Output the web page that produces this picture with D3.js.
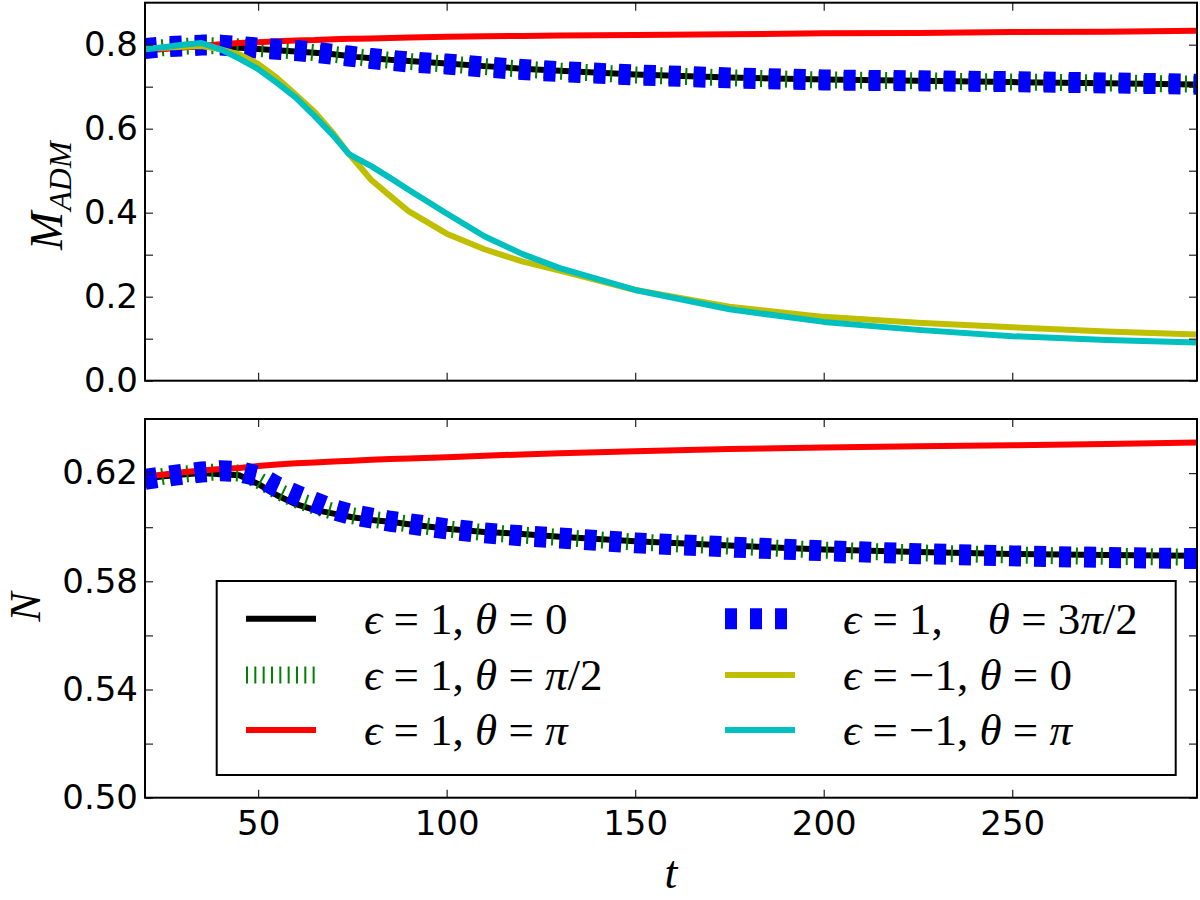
<!DOCTYPE html>
<html>
<head>
<meta charset="utf-8">
<script src="https://cdn.jsdelivr.net/npm/d3@7"></script>
<style>
body { margin: 0; background: #fff; }
</style>
</head>
<body>
<script>
const WIDTH = 1200;
const HEIGHT = 900;

// time grid, top panel (M_ADM)
var tTop = [20, 25, 30, 35, 40, 45, 50, 55, 60, 65, 70, 74, 76, 80, 85, 90, 100, 110, 120, 130, 150, 175, 200, 225, 250, 275, 299];
var massBlack  = [0.787, 0.791, 0.794, 0.796, 0.795, 0.793, 0.790, 0.787, 0.784, 0.781, 0.777, 0.773, 0.771, 0.768, 0.764, 0.761, 0.755, 0.749, 0.743, 0.738, 0.729, 0.722, 0.717, 0.714, 0.711, 0.708, 0.705];
var massGreen  = [0.789, 0.793, 0.796, 0.798, 0.797, 0.795, 0.791, 0.788, 0.785, 0.781, 0.777, 0.773, 0.771, 0.767, 0.763, 0.760, 0.754, 0.748, 0.742, 0.737, 0.728, 0.721, 0.716, 0.714, 0.711, 0.709, 0.706];
var massRed    = [0.786, 0.790, 0.794, 0.797, 0.801, 0.804, 0.806, 0.808, 0.810, 0.811, 0.813, 0.814, 0.814, 0.815, 0.816, 0.817, 0.819, 0.820, 0.821, 0.822, 0.823, 0.825, 0.827, 0.828, 0.830, 0.831, 0.833];
var massBlue   = [0.791, 0.795, 0.797, 0.799, 0.799, 0.796, 0.792, 0.789, 0.786, 0.782, 0.777, 0.773, 0.771, 0.767, 0.763, 0.759, 0.754, 0.747, 0.741, 0.736, 0.728, 0.721, 0.716, 0.714, 0.712, 0.709, 0.706];
var massYellow = [0.791, 0.793, 0.795, 0.797, 0.789, 0.777, 0.754, 0.721, 0.681, 0.640, 0.588, 0.541, 0.520, 0.478, 0.440, 0.403, 0.350, 0.313, 0.284, 0.262, 0.216, 0.176, 0.152, 0.138, 0.127, 0.117, 0.110];
var massCyan   = [0.789, 0.794, 0.800, 0.804, 0.789, 0.767, 0.742, 0.709, 0.674, 0.630, 0.583, 0.540, 0.530, 0.511, 0.483, 0.454, 0.398, 0.344, 0.302, 0.268, 0.216, 0.170, 0.140, 0.121, 0.106, 0.097, 0.091];

// time grid, bottom panel (N)
var tBottom = [20, 25, 30, 35, 40, 45, 50, 55, 60, 65, 70, 75, 80, 85, 90, 100, 110, 120, 130, 150, 175, 200, 225, 250, 275, 299];
var normBlack = [0.6180, 0.6188, 0.6195, 0.6200, 0.6196, 0.6192, 0.6160, 0.6118, 0.6085, 0.6064, 0.6050, 0.6037, 0.6027, 0.6020, 0.6011, 0.5994, 0.5982, 0.5975, 0.5965, 0.5948, 0.5932, 0.5918, 0.5908, 0.5901, 0.5897, 0.5894];
var normGreen = [0.6178, 0.6188, 0.6196, 0.6202, 0.6204, 0.6200, 0.6175, 0.6135, 0.6102, 0.6078, 0.6058, 0.6042, 0.6030, 0.6021, 0.6012, 0.5994, 0.5980, 0.5971, 0.5962, 0.5945, 0.5930, 0.5915, 0.5905, 0.5897, 0.5892, 0.5889];
var normRed   = [0.6187, 0.6195, 0.6203, 0.6210, 0.6215, 0.6219, 0.6226, 0.6232, 0.6236, 0.6239, 0.6243, 0.6246, 0.6249, 0.6252, 0.6254, 0.6259, 0.6264, 0.6269, 0.6273, 0.6281, 0.6289, 0.6295, 0.6299, 0.6303, 0.6308, 0.6313];
var normBlue  = [0.6177, 0.6187, 0.6196, 0.6204, 0.6209, 0.6206, 0.6189, 0.6149, 0.6119, 0.6092, 0.6065, 0.6046, 0.6034, 0.6022, 0.6013, 0.5994, 0.5979, 0.5968, 0.5960, 0.5942, 0.5927, 0.5913, 0.5902, 0.5894, 0.5888, 0.5884];

var legendLabels = ['ϵ = 1, θ = 0', 'ϵ = 1, θ = π/2', 'ϵ = 1, θ = π',
                    'ϵ = 1,    θ = 3π/2', 'ϵ = −1, θ = 0', 'ϵ = −1, θ = π'];

var xTicks = [50, 100, 150, 200, 250];
var massTicks = [0, 0.1, 0.2, 0.3, 0.4, 0.5, 0.6, 0.7, 0.8];
var massLabelled = [0, 0.2, 0.4, 0.6, 0.8];
var normTicks = [0.50, 0.52, 0.54, 0.56, 0.58, 0.60, 0.62];
var normLabelled = [0.50, 0.54, 0.58, 0.62];

var styles = [
    {color: '#000000', width: 6,  dash: null},
    {color: '#008000', width: 17, dash: '2,6.33'},
    {color: '#ff0000', width: 6,  dash: null},
    {color: '#0000ff', width: 21, dash: '12,13'},
    {color: '#bfbf00', width: 6,  dash: null},
    {color: '#00bfbf', width: 6,  dash: null}
];

var LEFT = 145, RIGHT = 1197;
var topPanel = {top: 2.7, bottom: 380.7};
var botPanel = {top: 419, bottom: 797.7};

var svg = d3.select('body').append('svg')
    .attr('width', WIDTH)
    .attr('height', HEIGHT);

var x = d3.scaleLinear().domain([20, 299]).range([LEFT, RIGHT]);
var yMass = d3.scaleLinear().domain([0, 0.9]).range([topPanel.bottom, topPanel.top]);
var yNorm = d3.scaleLinear().domain([0.5, 0.64]).range([botPanel.bottom, botPanel.top]);

var fmt = function(list, digits) {
    return function(d) {
        return list.some(function(v) { return Math.abs(v - d) < 1e-9; }) ? d.toFixed(digits) : '';
    };
};

var drawPanel = function(name, panel, y, ticks, tickFmt, series, tArr, withXLabels) {
    var clipId = 'clip-' + name;
    svg.append('clipPath').attr('id', clipId)
        .append('rect')
        .attr('x', LEFT).attr('y', panel.top)
        .attr('width', RIGHT - LEFT).attr('height', panel.bottom - panel.top);

    var g = svg.append('g').attr('clip-path', 'url(#' + clipId + ')');
    var line = d3.line()
        .x(function(d) { return x(d[0]); })
        .y(function(d) { return y(d[1]); });

    series.forEach(function(s) {
        var pts = tArr.map(function(t, i) { return [t, s.values[i]]; });
        g.append('path')
            .datum(pts)
            .attr('d', line)
            .attr('fill', 'none')
            .attr('stroke', s.style.color)
            .attr('stroke-width', s.style.width)
            .attr('stroke-dasharray', s.style.dash)
            .attr('stroke-linejoin', 'round')
            .attr('stroke-linecap', 'butt');
    });

    var styleAxis = function(sel) {
        sel.select('.domain').remove();
        sel.selectAll('.tick line').attr('stroke', '#222').attr('stroke-width', 1.2);
        sel.selectAll('.tick text')
            .attr('font-family', '"DejaVu Sans", sans-serif')
            .attr('font-size', 34)
            .attr('fill', '#000');
    };

    svg.append('g')
        .attr('transform', 'translate(' + LEFT + ',0)')
        .call(d3.axisLeft(y).tickValues(ticks).tickSize(-8).tickPadding(7).tickFormat(tickFmt))
        .call(styleAxis);
    svg.append('g')
        .attr('transform', 'translate(' + RIGHT + ',0)')
        .call(d3.axisRight(y).tickValues(ticks).tickSize(-8).tickFormat(''))
        .call(styleAxis);
    svg.append('g')
        .attr('transform', 'translate(0,' + panel.top + ')')
        .call(d3.axisTop(x).tickValues(xTicks).tickSize(-8).tickFormat(''))
        .call(styleAxis);
    svg.append('g')
        .attr('transform', 'translate(0,' + panel.bottom + ')')
        .call(d3.axisBottom(x).tickValues(xTicks).tickSize(-8).tickPadding(13)
            .tickFormat(withXLabels ? d3.format('d') : ''))
        .call(styleAxis);

    svg.append('rect')
        .attr('x', LEFT).attr('y', panel.top)
        .attr('width', RIGHT - LEFT).attr('height', panel.bottom - panel.top)
        .attr('fill', 'none')
        .attr('stroke', '#000')
        .attr('stroke-width', 2);
};

drawPanel('mass', topPanel, yMass, massTicks, fmt(massLabelled, 1), [
    {values: massBlack, style: styles[0]},
    {values: massGreen, style: styles[1]},
    {values: massRed, style: styles[2]},
    {values: massBlue, style: styles[3]},
    {values: massYellow, style: styles[4]},
    {values: massCyan, style: styles[5]}
], tTop, false);

drawPanel('norm', botPanel, yNorm, normTicks, fmt(normLabelled, 2), [
    {values: normBlack, style: styles[0]},
    {values: normGreen, style: styles[1]},
    {values: normRed, style: styles[2]},
    {values: normBlue, style: styles[3]}
], tBottom, true);

// math-like text: greek letters italic, digits and signs upright
var mathText = function(parent, str, size) {
    var text = parent.append('text')
        .attr('font-family', '"Liberation Serif", "DejaVu Serif", serif')
        .attr('font-size', size)
        .attr('fill', '#000')
        .style('white-space', 'pre');
    Array.from(str).forEach(function(ch) {
        var italic = /[ϵθπA-Za-z]/.test(ch);
        text.append('tspan')
            .attr('font-style', italic ? 'italic' : 'normal')
            .text(ch);
    });
    return text;
};

// axis labels
var mLabel = svg.append('text')
    .attr('transform', 'translate(62,250) rotate(-90)')
    .attr('font-family', '"Liberation Serif", serif')
    .attr('font-size', 46)
    .attr('font-style', 'italic');
mLabel.append('tspan').text('M');
mLabel.append('tspan').attr('font-size', 32).attr('dy', 9).attr('dx', 1).text('ADM');

svg.append('text')
    .attr('transform', 'translate(40,607) rotate(-90)')
    .attr('text-anchor', 'middle')
    .attr('font-family', '"Liberation Serif", serif')
    .attr('font-size', 44)
    .attr('font-style', 'italic')
    .text('N');

svg.append('text')
    .attr('x', 671).attr('y', 888)
    .attr('text-anchor', 'middle')
    .attr('font-family', '"Liberation Serif", serif')
    .attr('font-size', 46)
    .attr('font-style', 'italic')
    .text('t');

// legend
var legend = svg.append('g');
legend.append('rect')
    .attr('x', 216.7).attr('y', 581)
    .attr('width', 959).attr('height', 194)
    .attr('fill', '#fff')
    .attr('stroke', '#000')
    .attr('stroke-width', 2);

var rowY = [618.7, 675, 730];
var handleX = [246, 725];
var textX = [364, 843];
legendLabels.forEach(function(label, i) {
    var col = Math.floor(i / 3), row = i % 3;
    var st = styles[i];
    legend.append('line')
        .attr('x1', handleX[col]).attr('x2', handleX[col] + 70)
        .attr('y1', rowY[row]).attr('y2', rowY[row])
        .attr('stroke', st.color)
        .attr('stroke-width', st.width)
        .attr('stroke-dasharray', st.dash);
    mathText(legend, label, 45)
        .attr('x', textX[col])
        .attr('y', rowY[row] + 15);
});
</script>
</body>
</html>
